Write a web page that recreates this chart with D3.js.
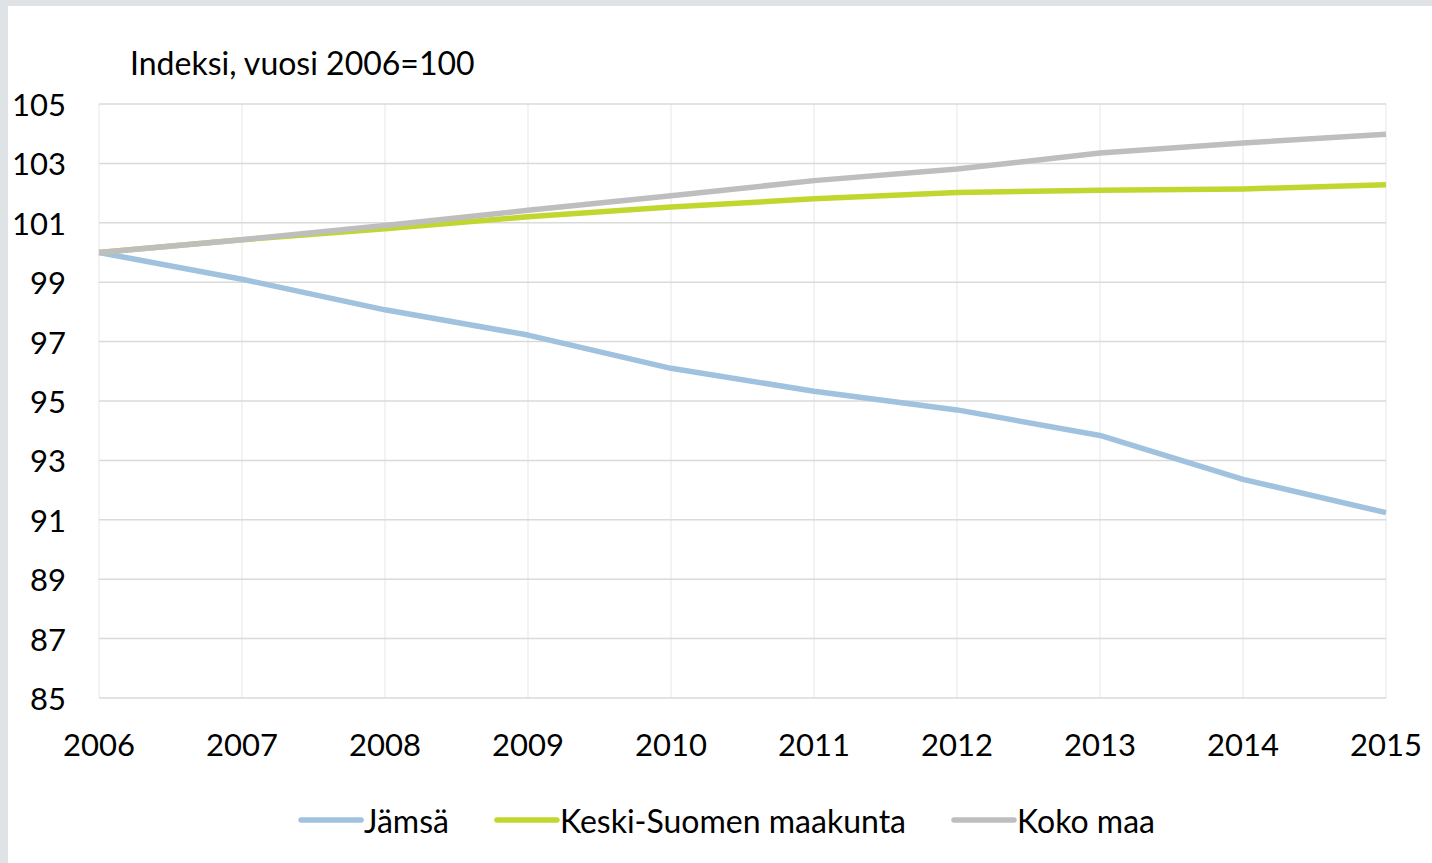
<!DOCTYPE html>
<html>
<head>
<meta charset="utf-8">
<script src="https://cdn.jsdelivr.net/npm/d3@7"></script>
<style>
  html, body { margin: 0; padding: 0; background: #dfe3e6; }
  svg { display: block; }
</style>
</head>
<body>
<div id="chart"></div>
<script>
// Data
const years = [2006, 2007, 2008, 2009, 2010, 2011, 2012, 2013, 2014, 2015];
const jamsa = [100, 99.1, 98.07, 97.22, 96.1, 95.33, 94.7, 93.84, 92.36, 91.24];
const keskiSuomi = [100, 100.43, 100.8, 101.2, 101.53, 101.81, 102.02, 102.1, 102.14, 102.28];
const kokoMaa = [100, 100.43, 100.91, 101.42, 101.91, 102.42, 102.81, 103.35, 103.69, 103.98];
const yTicks = [85, 87, 89, 91, 93, 95, 97, 99, 101, 103, 105];
const seriesNames = ['Jämsä', 'Keski-Suomen maakunta', 'Koko maa'];
const seriesColors = ['#a0c2de', '#c1d72f', '#bebebe'];
const yTitle = 'Indeksi, vuosi 2006=100';

const W = 1432, H = 863;
const font = 'Lato, "Open Sans", sans-serif';
const m = { left: 99, right: 1386, top: 104, bottom: 698 };

const svg = d3.select('#chart').append('svg')
  .attr('width', W).attr('height', H);

// Page frame
svg.append('rect').attr('x', 0).attr('y', 0).attr('width', W).attr('height', H).attr('fill', '#dfe3e6');
svg.append('rect').attr('x', 8).attr('y', 6).attr('width', W - 8).attr('height', H - 6).attr('fill', '#ffffff');

const x = d3.scaleLinear().domain([2006, 2015]).range([m.left, m.right]);
const y = d3.scaleLinear().domain([85, 105]).range([m.bottom, m.top]);

// Vertical gridlines
svg.append('g').selectAll('line').data(years).join('line')
  .attr('x1', d => x(d)).attr('x2', d => x(d))
  .attr('y1', m.top).attr('y2', m.bottom)
  .attr('stroke', '#efefef').attr('stroke-width', 1.5);

// Horizontal gridlines
svg.append('g').selectAll('line').data(yTicks).join('line')
  .attr('x1', m.left).attr('x2', m.right)
  .attr('y1', d => y(d)).attr('y2', d => y(d))
  .attr('stroke', '#dadada').attr('stroke-width', 1.5);

// Y axis labels
svg.append('g').selectAll('text').data(yTicks).join('text')
  .attr('x', 66).attr('y', d => y(d))
  .attr('text-anchor', 'end').attr('dominant-baseline', 'central')
  .attr('font-family', font).attr('font-size', 31).attr('fill', '#000')
  .text(d => d);

// X axis labels
svg.append('g').selectAll('text').data(years).join('text')
  .attr('x', d => x(d)).attr('y', 756)
  .attr('text-anchor', 'middle')
  .attr('font-family', font).attr('font-size', 31).attr('fill', '#000')
  .text(d => d);

// Axis title
svg.append('text')
  .attr('x', 130).attr('y', 75)
  .attr('font-family', font).attr('font-size', 32).attr('fill', '#000')
  .text(yTitle);

// Lines
const line = d3.line().x((d, i) => x(years[i])).y(d => y(d));
const allSeries = [jamsa, keskiSuomi, kokoMaa];
allSeries.forEach((s, i) => {
  svg.append('path')
    .datum(s)
    .attr('d', line)
    .attr('fill', 'none')
    .attr('stroke', seriesColors[i])
    .attr('stroke-width', 5.5)
    .attr('stroke-linejoin', 'round');
});

// Legend
const legend = svg.append('g');
let lx = 0;
seriesNames.forEach((name, i) => {
  const g = legend.append('g').attr('transform', `translate(${lx},0)`);
  g.append('line')
    .attr('x1', 0).attr('x2', 60).attr('y1', 0).attr('y2', 0)
    .attr('stroke', seriesColors[i]).attr('stroke-width', 5.5).attr('stroke-linecap', 'round');
  const t = g.append('text')
    .attr('x', 63).attr('y', 0).attr('dominant-baseline', 'central')
    .attr('font-family', font).attr('font-size', 32).attr('fill', '#000')
    .text(name);
  lx += 63 + t.node().getComputedTextLength() + 48;
});
const totalW = lx - 48;
legend.attr('transform', `translate(${728 - totalW / 2},820)`);
</script>
</body>
</html>
